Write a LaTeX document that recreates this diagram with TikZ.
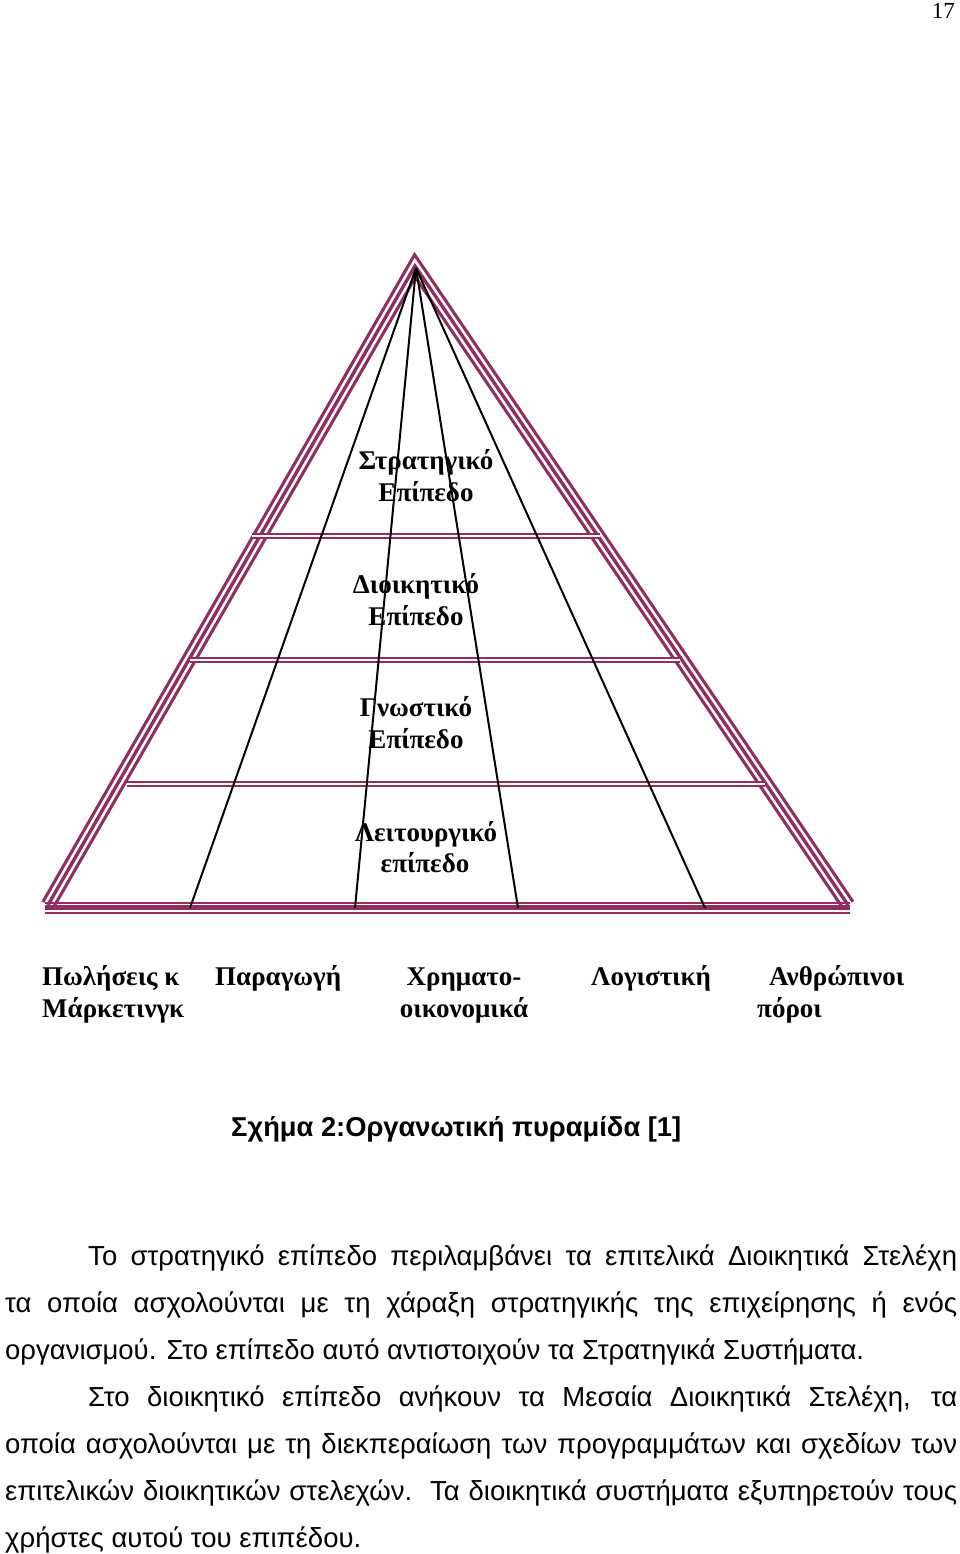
\documentclass[tikz,border=0pt]{standalone}
\usepackage{fontspec}
\setmainfont{Liberation Serif}
\newfontfamily\lsans{Liberation Sans}
\definecolor{mag}{RGB}{145,45,95}
\tikzset{
  lbl/.style={font=\fontsize{27}{32}\selectfont\bfseries, inner sep=0pt, anchor=base},
  lblw/.style={font=\fontsize{27}{32}\selectfont\bfseries, inner sep=0pt, anchor=base west},
  body/.style={font=\lsans\fontsize{27.5}{32}\selectfont, inner sep=0pt, anchor=base west},
  capt/.style={font=\lsans\bfseries\fontsize{27.3}{32}\selectfont, inner sep=0pt, anchor=base west},
  ray/.style={black, line width=2pt},
  dbl/.style={mag, line width=1.9pt, double=white, double distance=2.2pt},
}
\begin{document}
\begin{tikzpicture}[x=1pt,y=-1pt]
\useasboundingbox (0,0) rectangle (960,1554);
\fill[white] (0,0) rectangle (960,1554);
% page number
\node[font=\fontsize{23}{26}\selectfont, inner sep=0pt, anchor=base east] (pg) at (955,19) {17};
% triangle edges (triple line)
\coordinate (bl) at (48,905);
\coordinate (top) at (415,266);
\coordinate (br) at (848,905);
\draw[mag, line width=15pt, line join=miter] (bl) -- (top) -- (br);
\draw[white, line width=8.6pt, line join=miter] (bl) -- (top) -- (br);
\draw[mag, line width=3.4pt, line join=miter] (bl) -- (top) -- (br);
% base triple line
\coordinate (b0) at (45,902.7);
\coordinate (b1) at (850,902.7);
\coordinate (c0) at (45,907.7);
\coordinate (c1) at (850,907.7);
\coordinate (d0) at (45,913.3);
\coordinate (d1) at (850,913.3);
\draw[mag, line width=2.2pt] (b0) -- (b1);
\draw[mag, line width=4.8pt] (c0) -- (c1);
\draw[mag, line width=2.2pt] (d0) -- (d1);
% horizontal double lines
\coordinate (h1a) at (252,536);
\coordinate (h1b) at (600,536);
\coordinate (h2a) at (190,660);
\coordinate (h2b) at (680,660);
\coordinate (h3a) at (127,784);
\coordinate (h3b) at (765,784);
\draw[dbl] (h1a) -- (h1b);
\draw[dbl] (h2a) -- (h2b);
\draw[dbl] (h3a) -- (h3b);
% rays
\coordinate (apex) at (416,268);
\coordinate (r1) at (190,908);
\coordinate (r2) at (355,908);
\coordinate (r3) at (518,908);
\coordinate (r4) at (705,908);
\draw[ray] (apex) -- (r1);
\draw[ray] (apex) -- (r2);
\draw[ray] (apex) -- (r3);
\draw[ray] (apex) -- (r4);
% level labels
\node[lbl] (s1) at (426,469) {Στρατηγικό};
\node[lbl] (s2) at (426,501) {Επίπεδο};
\node[lbl] (m1) at (416,593) {Διοικητικό};
\node[lbl] (m2) at (416,625) {Επίπεδο};
\node[lbl] (g1) at (416,716) {Γνωστικό};
\node[lbl] (g2) at (416,748) {Επίπεδο};
\node[lbl] (o1) at (426,841) {Λειτουργικό};
\node[lbl] (o2) at (425,872) {επίπεδο};
% department labels
\node[lblw] (f1a) at (42,985) {Πωλήσεις κ};
\node[lblw] (f1b) at (42,1017) {Μάρκετινγκ};
\node[lblw] (f2) at (215,985) {Παραγωγή};
\node[lbl] (f3a) at (464,985) {Χρηματο-};
\node[lbl] (f3b) at (464,1017) {οικονομικά};
\node[lblw] (f4) at (591,985) {Λογιστική};
\node[lblw] (f5a) at (769,985) {Ανθρώπινοι};
\node[lblw] (f5b) at (757,1017) {πόροι};
% caption
\node[capt] (cap) at (231,1136) {Σχήμα 2:Οργανωτική πυραμίδα [1]};
% body text
\node[body] (t1) at (88,1265) {\makebox[869pt][s]{Το στρατηγικό επίπεδο περιλαμβάνει τα επιτελικά Διοικητικά Στελέχη}};
\node[body] (t2) at (5,1312) {\makebox[952pt][s]{τα οποία ασχολούνται με τη χάραξη στρατηγικής της επιχείρησης ή ενός}};
\node[body] (t3) at (5,1359) {οργανισμού. Στο επίπεδο αυτό αντιστοιχούν τα Στρατηγικά Συστήματα.};
\node[body] (t4) at (88,1406) {\makebox[869pt][s]{Στο διοικητικό επίπεδο ανήκουν τα Μεσαία Διοικητικά Στελέχη, τα}};
\node[body] (t5) at (5,1453) {\makebox[952pt][s]{οποία ασχολούνται με τη διεκπεραίωση των προγραμμάτων και σχεδίων των}};
\node[body] (t6) at (5,1500) {\makebox[952pt][s]{επιτελικών διοικητικών στελεχών.\ \ Τα διοικητικά συστήματα εξυπηρετούν τους}};
\node[body] (t7) at (5,1547) {χρήστες αυτού του επιπέδου.};
\end{tikzpicture}
\end{document}
